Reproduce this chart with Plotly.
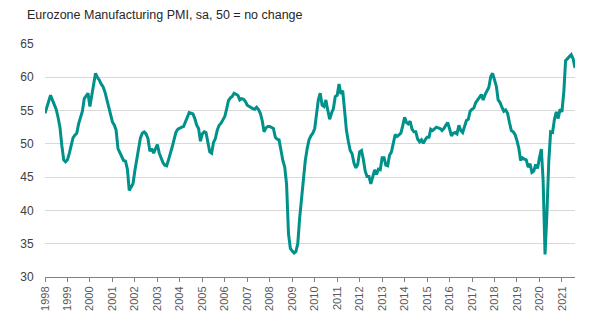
import pandas as pd
import plotly.graph_objects as go

# Eurozone Manufacturing PMI, monthly, seasonally adjusted (Jan 1998 - Aug 2021)
start_month = "1998-01-01"
pmi_1998_2001 = [
    54.6, 55.6, 56.5, 57.3, 56.6, 55.8, 55.2, 54.0, 52.5, 49.8, 47.6, 47.3,
    47.6, 48.6, 49.8, 50.9, 51.3, 51.6, 53.0, 54.0, 54.9, 56.8, 57.2, 57.6,
    55.6, 57.3, 59.0, 60.6, 60.0, 59.6, 59.0, 58.6, 57.8, 56.6, 55.3, 54.1,
    53.3, 52.8, 52.1, 49.3, 48.7, 48.1, 47.5, 47.4, 46.2, 43.0, 43.5, 44.0,
]
pmi_2002_2005 = [
    46.0, 47.8, 49.7, 50.9, 51.6, 51.8, 51.5, 50.8, 48.9, 49.3, 48.6, 49.4,
    49.9, 48.6, 47.8, 47.2, 46.8, 46.7, 47.6, 48.5, 49.6, 50.7, 51.8, 52.2,
    52.4, 52.5, 52.6, 53.4, 54.1, 54.7, 54.6, 54.5, 53.8, 52.8, 52.3, 50.4,
    51.5, 51.8, 51.7, 50.2, 48.8, 48.6, 50.2, 50.8, 52.1, 52.8, 53.1, 53.6,
]
pmi_2006_2009 = [
    54.1, 55.3, 56.5, 56.9, 57.1, 57.6, 57.5, 57.3, 56.6, 56.8, 56.7, 56.4,
    55.8, 55.6, 55.4, 55.3, 55.2, 55.5, 55.2, 54.6, 53.5, 51.8, 52.4, 52.6,
    52.6, 52.4, 52.3, 51.0, 50.7, 50.6, 49.0, 47.5, 46.5, 43.9, 36.5, 34.3,
    33.9, 33.6, 33.8, 35.0, 38.8, 42.0, 45.0, 47.5, 49.3, 50.6, 51.2, 51.6,
]
pmi_2010_2013 = [
    52.3, 54.5, 56.6, 57.6, 55.8, 55.6, 56.6, 55.1, 53.7, 54.6, 55.3, 57.1,
    57.3, 59.0, 57.5, 58.0, 54.6, 52.0, 50.4, 49.0, 48.5, 47.1, 46.4, 46.9,
    48.8, 49.0, 47.7, 45.9, 45.1, 45.1, 44.0, 45.1, 46.1, 45.4, 46.2, 46.1,
    47.9, 47.9, 46.8, 46.7, 48.3, 48.8, 50.3, 51.4, 51.1, 51.3, 51.6, 52.7,
]
pmi_2014_2017 = [
    54.0, 53.2, 53.0, 53.4, 52.2, 51.8, 51.8, 50.7, 50.3, 50.6, 50.1, 50.6,
    51.0, 51.0, 52.2, 52.0, 52.2, 52.5, 52.4, 52.3, 52.0, 52.3, 52.8, 53.2,
    52.3, 51.2, 51.6, 51.7, 51.5, 52.8, 52.0, 51.7, 52.6, 53.5, 53.7, 54.9,
    55.2, 55.4, 56.2, 56.7, 57.0, 57.4, 56.6, 57.4, 58.1, 58.5, 60.1, 60.6,
]
pmi_2018_2021 = [
    59.6, 58.6, 56.6, 56.2, 55.5, 54.9, 55.1, 54.6, 53.2, 52.0, 51.8, 51.4,
    50.5, 49.3, 47.5, 47.9, 47.7, 47.6, 46.5, 47.0, 45.7, 45.9, 46.9, 46.3,
    47.9, 49.2, 44.5, 33.4, 39.4, 47.4, 51.8, 51.7, 53.7, 54.8, 53.8, 55.2,
    54.8, 57.9, 62.5, 62.9, 63.1, 63.4, 62.8, 61.4,
]
title_text = "Eurozone Manufacturing PMI, sa, 50 = no change"
year_ticks = list(range(1998, 2022))
y_ticks = [30, 35, 40, 45, 50, 55, 60, 65]

pmi = (pmi_1998_2001 + pmi_2002_2005 + pmi_2006_2009
       + pmi_2010_2013 + pmi_2014_2017 + pmi_2018_2021)
months = pd.date_range(start_month, periods=len(pmi), freq="MS")

fig = go.Figure()
fig.add_trace(go.Scatter(
    x=months, y=pmi, mode="lines",
    line=dict(color="#00918a", width=3, shape="linear"),
    hoverinfo="x+y", showlegend=False,
))

font_family = "Liberation Sans, Arial, sans-serif"
fig.update_layout(
    width=614, height=331,
    margin=dict(l=45, r=39, t=44, b=54),
    paper_bgcolor="white", plot_bgcolor="white",
    font=dict(family=font_family, color="#404040", size=12),
    title=dict(text=title_text, x=27 / 614, xanchor="left",
               y=1 - 15 / 331, yanchor="middle",
               font=dict(family=font_family, size=12.5, color="#262626")),
    xaxis=dict(
        type="date",
        range=[months[0], months[-1]],
        tickmode="array",
        tickvals=[pd.Timestamp(f"{y}-01-01") for y in year_ticks],
        ticktext=[str(y) for y in year_ticks],
        tickangle=-90,
        tickfont=dict(size=11, color="#595959"),
        ticks="outside", ticklen=4, tickcolor="#808080", tickwidth=1,
        showline=True, linecolor="#808080", linewidth=1,
        showgrid=False, zeroline=False,
    ),
    yaxis=dict(
        range=[30, 65],
        tickvals=y_ticks,
        tickfont=dict(size=12, color="#404040"),
        ticks="outside", ticklen=8, tickcolor="rgba(0,0,0,0)",
        showgrid=True, gridcolor="#d9d9d9", gridwidth=1,
        zeroline=False, showline=False,
    ),
)

fig.write_html("out.html")
